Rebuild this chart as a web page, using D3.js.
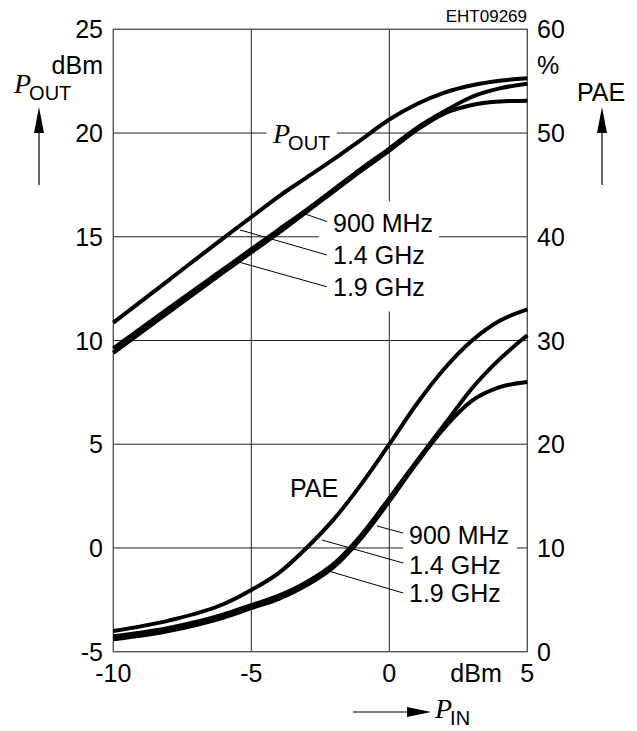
<!DOCTYPE html>
<html>
<head>
<meta charset="utf-8">
<script src="https://cdn.jsdelivr.net/npm/d3@7"></script>
<style>
  body { margin: 0; background: #fff; }
  text { font-family: "Liberation Sans", Arial, sans-serif; fill: #000; }
  .it { font-family: "Liberation Serif", serif; font-style: italic; }
</style>
</head>
<body>
<svg id="chart" width="637" height="731"></svg>
<script>
// input power, dBm
const pin = [-10, -8, -6, -5, -4, -3, -2, -1, 0, 1, 2, 3, 4, 5];

// output power, dBm
const pout1400 = [10.86, 12.9, 14.95, 15.95, 16.95, 17.85, 18.75, 19.7, 20.65, 21.4, 21.95, 22.3, 22.52, 22.64];
const pout900  = [9.62, 11.55, 13.45, 14.4, 15.35, 16.3, 17.3, 18.3, 19.25, 20.25, 21.05, 21.75, 22.15, 22.38];
const pout1900 = [9.4, 11.35, 13.3, 14.25, 15.2, 16.2, 17.2, 18.2, 19.15, 20.15, 20.95, 21.35, 21.52, 21.56];

// power added efficiency, %
const pae1400 = [2.0, 3.0, 4.6, 5.95, 7.6, 10.0, 12.8, 16.2, 20.0, 23.9, 27.3, 30.0, 31.9, 33.0];
const pae900  = [1.5, 2.3, 3.6, 4.5, 5.4, 6.7, 8.5, 11.3, 14.8, 18.4, 21.9, 25.4, 28.2, 30.5];
const pae1900 = [1.2, 2.0, 3.3, 4.2, 5.1, 6.4, 8.2, 11.0, 14.5, 18.2, 21.6, 24.2, 25.5, 26.0];

const xTicks = [-10, -5, 0, 5];
const yTicks = [-5, 0, 5, 10, 15, 20, 25];
const y2Ticks = [0, 10, 20, 30, 40, 50, 60];
const freqLabels = ["900 MHz", "1.4 GHz", "1.9 GHz"];

const svg = d3.select("#chart");

const x = d3.scaleLinear().domain([-10, 5]).range([113.3, 527.3]);
const y = d3.scaleLinear().domain([-5, 25]).range([651.7, 29.3]);
const y2 = d3.scaleLinear().domain([0, 60]).range([651.7, 29.3]);

// grid, with gaps where the labels sit
const grid = svg.append("g").attr("stroke", "#222").attr("stroke-width", 1);
const hseg = (v, a, b) => grid.append("line").attr("x1", x(a)).attr("x2", x(b)).attr("y1", y(v)).attr("y2", y(v));
const vseg = (v, a, b) => grid.append("line").attr("x1", x(v)).attr("x2", x(v)).attr("y1", y(a)).attr("y2", y(b));
hseg(20, -10, -4.45); hseg(20, -1.9, 5);
hseg(15, -10, -2.55); hseg(15, 1.8, 5);
hseg(10, -10, 5);
hseg(5, -10, 5);
hseg(0, -10, 0.5); hseg(0, 4.63, 5);
vseg(-5, -5, 25);
vseg(0, 25, 16.7); vseg(0, 11.4, -5);

svg.append("rect")
  .attr("x", x(-10)).attr("y", y(25))
  .attr("width", x(5) - x(-10)).attr("height", y(-5) - y(25))
  .attr("fill", "none").attr("stroke", "#555").attr("stroke-width", 1.4);

// curves
const line = (ys, sc) => d3.line().x((d, i) => x(pin[i])).y(d => sc(d)).curve(d3.curveMonotoneX)(ys);
const curves = svg.append("g").attr("fill", "none").attr("stroke", "#000").attr("stroke-width", 4);
[pout1400, pout900, pout1900].forEach(s => curves.append("path").attr("d", line(s, y)));
[pae1400, pae900, pae1900].forEach(s => curves.append("path").attr("d", line(s, y2)));

// tick labels
const fs = 25;
svg.append("g").selectAll("text").data(yTicks).join("text")
  .attr("x", 103).attr("y", d => y(d)).attr("dy", "0.36em")
  .attr("text-anchor", "end").attr("font-size", fs).text(d => d);
svg.append("g").selectAll("text").data(y2Ticks).join("text")
  .attr("x", 537).attr("y", d => y2(d)).attr("dy", "0.36em")
  .attr("font-size", fs).text(d => d);
svg.append("g").selectAll("text").data(xTicks).join("text")
  .attr("x", d => x(d)).attr("y", 673).attr("dy", "0.36em")
  .attr("text-anchor", "middle").attr("font-size", fs).text(d => d);

svg.append("text").attr("x", 103).attr("y", 65).attr("dy", "0.36em")
  .attr("text-anchor", "end").attr("font-size", fs).text("dBm");
svg.append("text").attr("x", 537).attr("y", 65).attr("dy", "0.36em")
  .attr("font-size", fs).text("%");
svg.append("text").attr("x", 476).attr("y", 673).attr("dy", "0.36em")
  .attr("text-anchor", "middle").attr("font-size", fs).text("dBm");
svg.append("text").attr("x", 527).attr("y", 22)
  .attr("text-anchor", "end").attr("font-size", 17).text("EHT09269");

// P with subscript
const pLabel = (px, py, sub) => {
  const t = svg.append("text").attr("x", px).attr("y", py);
  t.append("tspan").attr("class", "it").attr("font-size", 28).text("P");
  t.append("tspan").attr("font-size", 20).attr("dx", -2).attr("dy", 7).text(sub);
};
pLabel(14, 93, "OUT");
pLabel(273, 143, "OUT");
pLabel(435, 718, "IN");

svg.append("text").attr("x", 577).attr("y", 92).attr("dy", "0.36em")
  .attr("font-size", fs).text("PAE");
svg.append("text").attr("x", 290).attr("y", 488).attr("dy", "0.36em")
  .attr("font-size", fs).text("PAE");

// arrows
const arrows = svg.append("g");
const upArrow = (ax) => {
  arrows.append("line").attr("x1", ax).attr("x2", ax).attr("y1", 185).attr("y2", 128)
    .attr("stroke", "#000").attr("stroke-width", 1.2);
  arrows.append("path").attr("d", `M${ax},107 L${ax - 5},133 L${ax + 5},133 Z`).attr("fill", "#000");
};
upArrow(39);
upArrow(602);
arrows.append("line").attr("x1", 353).attr("x2", 412).attr("y1", 712).attr("y2", 712)
  .attr("stroke", "#000").attr("stroke-width", 1.2);
arrows.append("path").attr("d", "M431,712 L407,707 L407,717 Z").attr("fill", "#000");

// frequency annotations with leader lines (data coords)
const ann = svg.append("g");
const poutLeaders = [[[-3.12, 16.13], [-2.25, 15.73]], [[-5.41, 15.33], [-2.26, 14.12]], [[-5.48, 13.79], [-2.26, 12.59]]];
const paeLeaders = [[[-0.45, 12.12], [0.5, 11.44]], [[-2.44, 10.77], [0.5, 8.55]], [[-2.33, 7.88], [0.5, 5.66]]];
poutLeaders.forEach(l => ann.append("line")
  .attr("x1", x(l[0][0])).attr("y1", y(l[0][1])).attr("x2", x(l[1][0])).attr("y2", y(l[1][1]))
  .attr("stroke", "#000").attr("stroke-width", 1));
paeLeaders.forEach(l => ann.append("line")
  .attr("x1", x(l[0][0])).attr("y1", y2(l[0][1])).attr("x2", x(l[1][0])).attr("y2", y2(l[1][1]))
  .attr("stroke", "#000").attr("stroke-width", 1));
const poutLabelY = [222.5, 255, 287];
const paeLabelY = [535, 565, 593];
ann.selectAll(".pl").data(freqLabels).join("text").attr("class", "pl")
  .attr("x", 333).attr("y", (d, i) => poutLabelY[i]).attr("dy", "0.36em")
  .attr("font-size", fs).text(d => d);
ann.selectAll(".ql").data(freqLabels).join("text").attr("class", "ql")
  .attr("x", 409).attr("y", (d, i) => paeLabelY[i]).attr("dy", "0.36em")
  .attr("font-size", fs).text(d => d);
</script>
</body>
</html>
